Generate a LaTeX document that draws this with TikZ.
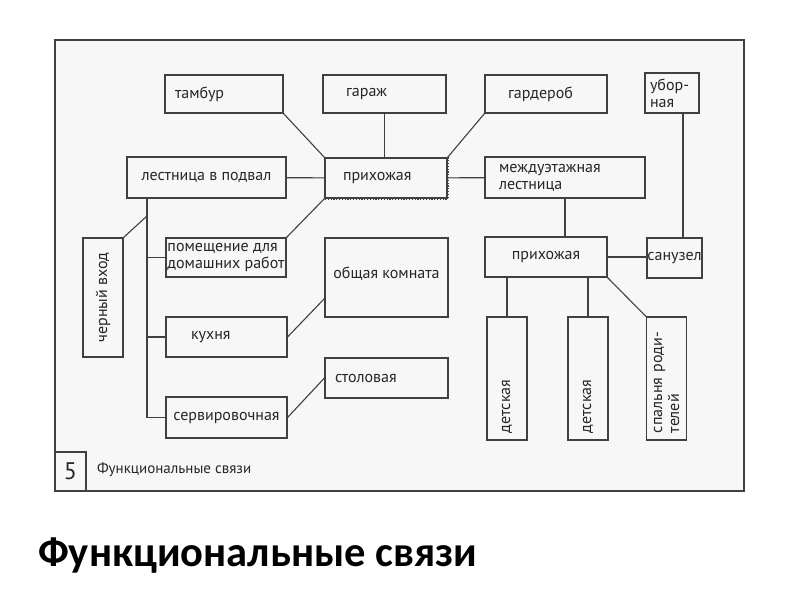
\documentclass[tikz,border=0pt]{standalone}
\usepackage{fontspec}
\newfontfamily\planfont{PT Sans}
\newfontfamily\headfont{Carlito}
\usetikzlibrary{positioning}

\begin{document}
\begin{tikzpicture}[x=1pt, y=-1pt,
  every node/.style={font=\planfont\fontsize{16}{17}\selectfont, text=black!85},
  room/.style={draw=black!75, line width=1.1pt, inner sep=0pt, align=center},
  lroom/.style={draw=black!75, line width=1.1pt, inner ysep=0pt, align=left},
  vroom/.style={room, rotate=90, inner xsep=7pt, text width=109pt, align=left, minimum height=40pt},
  link/.style={draw=black!75, line width=1.1pt}
]
\useasboundingbox (0,0) rectangle (800,600);
\fill[black!3] (55,40) rectangle (744,491);
\draw[link] (55,40) rectangle (744,491);

% top row
\node[lroom, text width=98pt, inner xsep=10pt, minimum height=38pt] (tambur) at (224,94) {тамбур};
\node[lroom, text width=77pt, inner xsep=23pt, minimum height=38pt] (garazh) at (384.5,94) {гараж};
\node[lroom, text width=76pt, inner xsep=23pt, minimum height=38pt] (garderob) at (546,94) {гардероб};
\node[lroom, text width=44pt, inner xsep=5pt, minimum height=40pt] (ubornaya) at (672,93) {убор-\\ная};

% second row
\node[room, minimum width=159pt, minimum height=41pt] (podval) at (206.5,177.5) {лестница в подвал};
\node[lroom, text width=86pt, inner xsep=18pt, minimum height=40pt] (hall) at (386,178) {прихожая};
\draw[link, line width=2pt, dash pattern=on 1.2pt off 1.6pt] (hall.north east) -- (hall.south east) -- (hall.south west);
\node[lroom, text width=132pt, inner xsep=14pt, minimum height=41pt] (stair) at (565,177.5) {междуэтажная\\лестница};

% left wing
\node[room, rotate=90, minimum width=119pt, minimum height=40pt] (backdoor) at (103,297.5) {черный вход};
\node[room, align=left, minimum width=120pt, minimum height=39pt] (utility) at (226,257.5) {помещение для\\домашних работ};
\node[lroom, text width=71pt, inner xsep=25pt, minimum height=40pt] (kitchen) at (226.5,337) {кухня};
\node[room, minimum width=121pt, minimum height=41pt] (pantry) at (226.5,417.5) {сервировочная};
\node[room, minimum width=123pt, minimum height=79pt] (living) at (386.5,277.5) {общая комната\\[-8pt]};
\node[lroom, text width=103pt, inner xsep=10pt, minimum height=40pt] (dining) at (386.5,378) {столовая};

% right wing
\node[room, minimum width=122pt, minimum height=40pt] (upperhall) at (546,257) {прихожая};
\node[room, minimum width=55pt, minimum height=40pt] (bath) at (674.5,258) {санузел};
\node[vroom] (kids1) at (507,378.5) {детская};
\node[vroom] (kids2) at (588,378.5) {детская};
\node[vroom] (parents) at (666.5,378.5) {спальня роди-\\телей};

% caption
\draw[link] (55,452) -| (86,491);
\node[font=\planfont\fontsize{24}{24}\selectfont] (num) at (70.5,471) {5};
\node[font=\planfont\fontsize{15}{17}\selectfont, anchor=west, inner sep=0pt] (cap) at (97,470) {Функциональные связи};
\node[font=\headfont\bfseries\fontsize{42.5}{48}\selectfont, text=black, anchor=base west, inner sep=0pt] (title) at (38,566) {Функциональные связи};

% connections
\coordinate (spine) at (147,0);
\coordinate (joint) at (147,216);
\draw[link] (tambur.south east) -- (hall.north west);
\draw[link] (garazh.south) -- (garazh.south |- hall.north);
\draw[link] (garderob.south west) -- (hall.north east);
\draw[link] (podval) -- (hall);
\draw[link] (hall) -- (stair);
\draw[link] ([xshift=11pt]ubornaya.south) -- ([xshift=11pt]ubornaya.south |- bath.north);
\draw[link] (stair.south) -- (stair.south |- upperhall.north);
\draw[link] (upperhall.east) -- (upperhall.east -| bath.west);
\draw[link] (upperhall.south -| kids1) -- (kids1.east);
\draw[link] (upperhall.south -| kids2) -- (kids2.east);
\draw[link] (upperhall.south east) -- (parents.north east);
\draw[link] (podval.south -| spine) -- (spine |- pantry.west) -- (pantry.west);
\draw[link] (spine |- utility.west) -- (utility.west);
\draw[link] (spine |- kitchen.west) -- (kitchen.west);
\draw[link] (backdoor.south east) -- (joint);
\draw[link] (utility.north east) -- (hall.south west);
\draw[link] (kitchen.east) -- ([yshift=19pt]living.south west);
\draw[link] (pantry.east) -- (dining.west);
\end{tikzpicture}
\end{document}
